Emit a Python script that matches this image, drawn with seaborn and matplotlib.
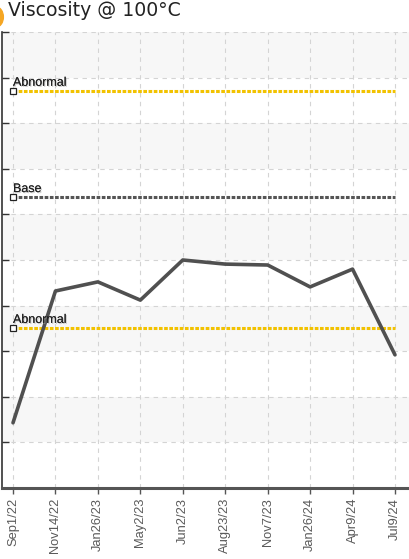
import matplotlib
matplotlib.use("Agg")
import matplotlib.pyplot as plt
import matplotlib.patheffects as pe
from matplotlib.patches import Circle
import seaborn as sns
import pandas as pd
import numpy as np

dates = ["Sep1/22", "Nov14/22", "Jan26/23", "May2/23", "Jun2/23",
         "Aug23/23", "Nov7/23", "Jan26/24", "Apr9/24", "Jul9/24"]
values = [1.43, 4.32, 4.52, 4.12, 5.0, 4.91, 4.89, 4.41, 4.80, 2.92]
ref_names = ["Abnormal", "Base", "Abnormal"]
ref_values = [8.71, 6.38, 3.51]
ref_colors = ["#f2c200", "#555555", "#f2c200"]
y_ticks = list(range(0, 11))

sns.set_theme(style="white")
narrow = ["Liberation Sans", "DejaVu Sans"]

fig = plt.figure(figsize=(4.09, 5.59), dpi=100)
ax = fig.add_axes([2/409, (559-488)/559, 1 - 2/409, (488-32)/559])

df = pd.DataFrame({"idx": np.arange(len(dates)), "value": values})

ax.set_ylim(0, 10)
ax.set_xlim(-11/42.4, 9 + 14/42.4)

# alternating bands
for k in range(1, 10, 2):
    ax.axhspan(y_ticks[k], y_ticks[k+1], color="#f7f7f7", zorder=0, lw=0)

ax.set_yticks(y_ticks)
ax.set_yticklabels([])
ax.set_xticks(df["idx"])
ax.set_xticklabels(dates, rotation=90, fontsize=9.3, color="#5a5a5a", family=narrow)

ax.grid(True, color="#d4d4d4", linestyle=(0, (4, 4)), linewidth=0.8, zorder=1)
ax.set_axisbelow(True)

for name, val, col in zip(ref_names, ref_values, ref_colors):
    ax.plot([0, len(dates) - 1], [val, val], color=col, lw=2.2,
            linestyle=(0, (1.2, 0.5)), zorder=3, solid_capstyle="butt",
            dash_capstyle="butt")
    ax.plot([0], [val], marker="s", markersize=4.5, markerfacecolor="white",
            markeredgecolor="#222222", markeredgewidth=0.9, zorder=5, clip_on=False)
    ax.text(0, val + 0.11, name, fontsize=9, color="#222222", family=narrow,
            ha="left", va="baseline", zorder=6,
            path_effects=[pe.withSimplePatchShadow(offset=(0.8, -0.8),
                                                   shadow_rgbFace="#aaaaaa", alpha=0.6),
                          pe.Normal()])

sns.lineplot(data=df, x="idx", y="value", ax=ax, color="#505050", lw=2.6,
             zorder=4, legend=False)
ax.set_xlabel("")
ax.set_ylabel("")

for s in ["top", "right"]:
    ax.spines[s].set_visible(False)
ax.spines["left"].set_color("#333333")
ax.spines["left"].set_linewidth(1.2)
ax.spines["bottom"].set_color("#555555")
ax.spines["bottom"].set_linewidth(2.2)
ax.tick_params(axis="x", direction="out", length=4, width=1, color="#555555", pad=3)
ax.tick_params(axis="y", direction="in", length=5, width=1, color="#333333", left=True)
ax.tick_params(axis="x", bottom=True)

# title and orange dot
fig.text(8/409, 1 - 10.5/559, "Viscosity @ 100\u00b0C", fontsize=13.6, color="#222222",
         ha="left", va="center", family=["DejaVu Sans"])
fig.patches.append(Circle((-4/409, 1 - 17/559), 0.018, transform=fig.transFigure,
                          color="#f5a623", clip_on=False))

fig.savefig("out.png", dpi=100)
